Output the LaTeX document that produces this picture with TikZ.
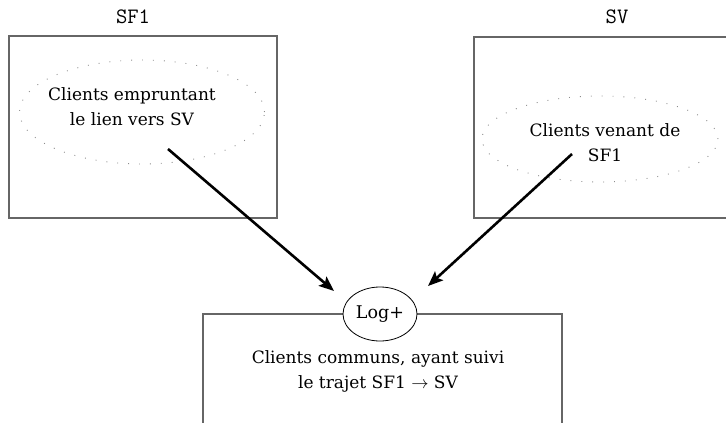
\documentclass[tikz,border=0pt]{standalone}
\usepackage{fontspec}
\setmainfont{DejaVu Serif}
\usetikzlibrary{arrows.meta,shapes.geometric}
\begin{document}
\begin{tikzpicture}[x=1pt,y=-1pt,
  frame/.style={draw=black!60,line width=1.1pt},
  cloud/.style={draw=black!45,line width=0.9pt,dash pattern=on 0.9pt off 10pt,ellipse},
  body/.style={font=\fontsize{17}{25}\selectfont,align=center},
  title/.style={font=\ttfamily\fontsize{22}{24}\selectfont},
  link/.style={line width=2.6pt,-{Stealth[length=15pt,width=12pt,inset=3pt]}}]
  \useasboundingbox (0,0) rectangle (726,423);
  \clip (0,0) rectangle (726,423);
  % two source frames with their titles
  \draw[frame] (9,36) rectangle (277,218);
  \draw[frame] (474,37) rectangle (740,218);
  \node[title] (tsf) at (133,17) {SF1};
  \node[title] (tsv) at (617,17) {SV};
  % dotted client groups
  \node[cloud,minimum width=245pt,minimum height=104pt] (csf) at (142,112) {};
  \node[cloud,minimum width=236pt,minimum height=86pt] (csv) at (600,139) {};
  \node[body] (lsf) at (132,107) {Clients empruntant\\le lien vers SV};
  \node[body] (lsv) at (605,143) {Clients venant de\\SF1};
  % result frame, open at the bottom edge
  \draw[frame] (203,440) -- (203,314) -- (562,314) -- (562,440);
  \node[draw,ellipse,fill=white,line width=0.8pt,minimum width=74pt,minimum height=54pt,inner sep=0pt,font=\fontsize{17.5}{20}\selectfont] (log) at (380,314) {Log+};
  \node[body] (lres) at (378,371) {Clients communs, ayant suivi\\le trajet SF1 $\rightarrow$ SV};
  % links into the merge
  \coordinate (s1) at (168,149);
  \coordinate (e1) at (334,291);
  \coordinate (s2) at (572,154);
  \coordinate (e2) at (428,286);
  \draw[link] (s1) -- (e1);
  \draw[link] (s2) -- (e2);
\end{tikzpicture}
\end{document}
